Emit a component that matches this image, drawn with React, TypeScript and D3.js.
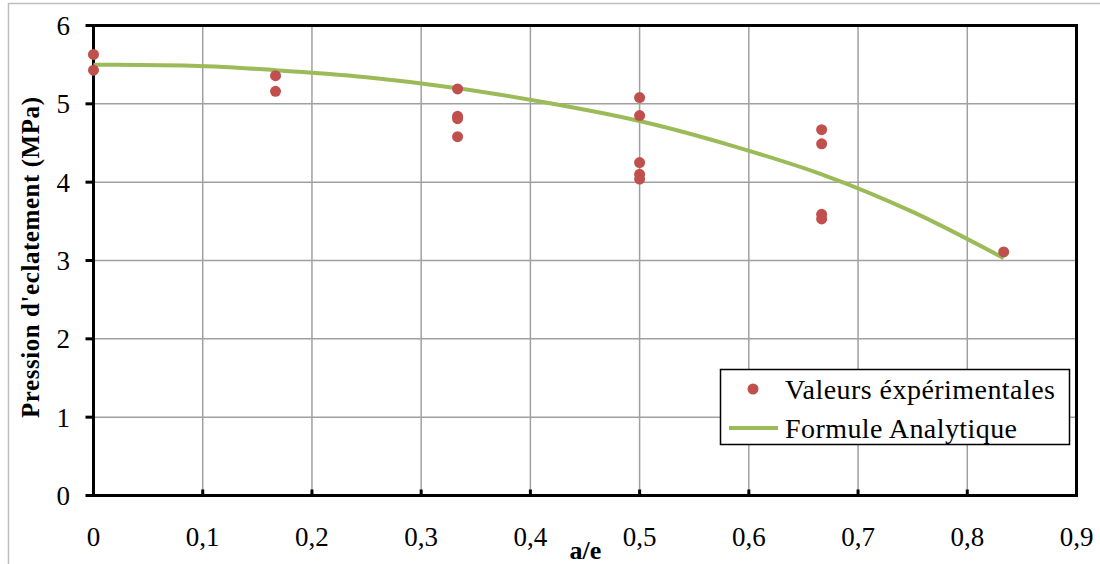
import React from "react";
import * as d3 from "d3";

const xTicks = [0, 0.1, 0.2, 0.3, 0.4, 0.5, 0.6, 0.7, 0.8, 0.9];
const yTicks = [0, 1, 2, 3, 4, 5, 6];
const xTickLabels = ["0", "0,1", "0,2", "0,3", "0,4", "0,5", "0,6", "0,7", "0,8", "0,9"];

const expX = [0, 0, 1 / 6, 1 / 6, 1 / 3, 1 / 3, 1 / 3, 1 / 3, 0.5, 0.5, 0.5, 0.5, 0.5, 2 / 3, 2 / 3, 2 / 3, 2 / 3, 5 / 6];
const expY = [5.63, 5.43, 5.36, 5.16, 5.19, 4.84, 4.81, 4.58, 5.08, 4.85, 4.25, 4.1, 4.04, 4.67, 4.49, 3.59, 3.53, 3.11];

const curveX = [0, 1 / 12, 1 / 6, 1 / 4, 1 / 3, 5 / 12, 1 / 2, 7 / 12, 2 / 3, 3 / 4, 5 / 6];
const curveY = [5.5, 5.49, 5.43, 5.34, 5.2, 5.01, 4.78, 4.47, 4.1, 3.62, 3.03];

const RED = "#C0504D";
const GREEN = "#9BBB59";
const GRID = "#A0A0A0";
const FONT = "'Liberation Serif', 'Times New Roman', serif";

export default function App() {
  const x = d3.scaleLinear().domain([0, 0.9]).range([93.5, 1076.5]);
  const y = d3.scaleLinear().domain([0, 6]).range([495.5, 25.5]);
  const line = d3
    .line<number>()
    .x((_, i) => x(curveX[i]))
    .y((d) => y(d))
    .curve(d3.curveMonotoneX);

  return (
    <svg
      width={1100}
      height={564}
      style={{ position: "absolute", left: 0, top: 0, background: "#fff" }}
      fontFamily={FONT}
    >
      <rect x={8.5} y={3.5} width={1100} height={600} fill="#fff" stroke="#BFBFBF" strokeWidth={1.5} />
      {yTicks.slice(1, -1).map((t) => (
        <line key={"gy" + t} x1={x(0)} x2={x(0.9)} y1={y(t)} y2={y(t)} stroke={GRID} strokeWidth={1.5} />
      ))}
      {xTicks.slice(1, -1).map((t) => (
        <line key={"gx" + t} x1={x(t)} x2={x(t)} y1={y(0)} y2={y(6)} stroke={GRID} strokeWidth={1.5} />
      ))}
      <rect x={x(0)} y={y(6)} width={x(0.9) - x(0)} height={y(0) - y(6)} fill="none" stroke="#000" strokeWidth={3} />
      {yTicks.map((t) => (
        <g key={"yt" + t}>
          <line x1={x(0) - 8} x2={x(0)} y1={y(t)} y2={y(t)} stroke="#000" strokeWidth={3} />
          <text x={70} y={y(t)} dy="0.35em" textAnchor="end" fontSize={27}>
            {t}
          </text>
        </g>
      ))}
      {xTicks.map((t, i) => (
        <g key={"xt" + t}>
          <line x1={x(t)} x2={x(t)} y1={y(0)} y2={y(0) - 6} stroke="#000" strokeWidth={3} />
          <text x={x(t)} y={546} textAnchor="middle" fontSize={27}>
            {xTickLabels[i]}
          </text>
        </g>
      ))}
      <path d={line(curveY) || ""} fill="none" stroke={GREEN} strokeWidth={4} />
      {expY.map((v, i) => (
        <circle key={"p" + i} cx={x(expX[i])} cy={y(v)} r={5.5} fill={RED} />
      ))}
      <rect x={720.5} y={369.5} width={349} height={75} fill="#fff" stroke="#000" strokeWidth={1.5} />
      <circle cx={753} cy={389} r={5.5} fill={RED} />
      <text x={785} y={389} dy="0.35em" fontSize={28} textLength={270} lengthAdjust="spacing">
        Valeurs éxpérimentales
      </text>
      <line x1={729} x2={778} y1={428} y2={428} stroke={GREEN} strokeWidth={4} />
      <text x={785} y={428} dy="0.35em" fontSize={28} textLength={232} lengthAdjust="spacing">
        Formule Analytique
      </text>
      <text
        transform={`translate(39, 257.5) rotate(-90)`}
        textAnchor="middle"
        fontSize={25}
        fontWeight="bold"
        textLength={321}
        lengthAdjust="spacing"
      >
        Pression d'eclatement (MPa)
      </text>
      <text x={585.5} y={559} textAnchor="middle" fontSize={26} fontWeight="bold">
        a/e
      </text>
    </svg>
  );
}
